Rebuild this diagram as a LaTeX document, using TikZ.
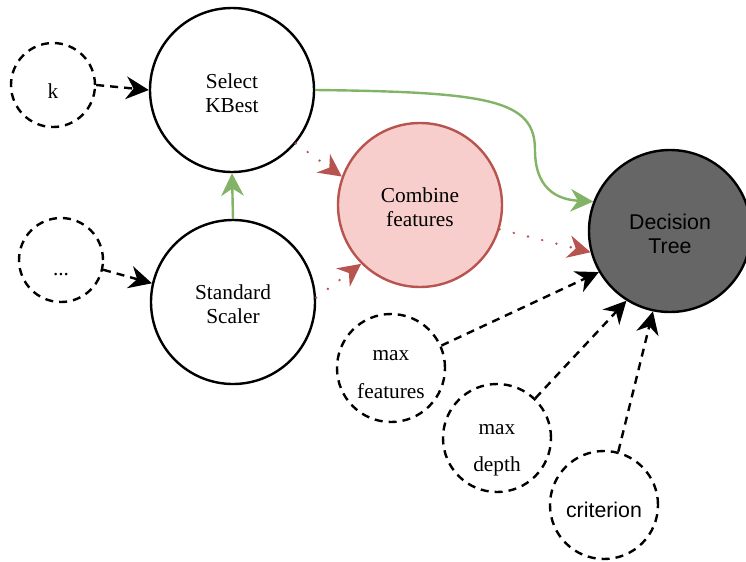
\documentclass[tikz,border=0pt]{standalone}
\usepackage{fontspec}
\setmainfont{Liberation Serif}
\newfontfamily\arialfont{Liberation Sans}
\usetikzlibrary{arrows.meta}

\definecolor{pipegreen}{HTML}{82B366}
\definecolor{pipered}{HTML}{B85450}
\definecolor{pipepink}{HTML}{F8CECC}
\definecolor{pipegray}{HTML}{666666}

% text sits a little low in its circle
\newcommand{\lowertext}[2]{\raisebox{-#1}[\height][\depth]{\begin{tabular}{@{}c@{}}#2\end{tabular}}}

\begin{document}
\begin{tikzpicture}[x=0.75pt,y=-0.75pt,
    every node/.style={font=\fontsize{16}{18}\selectfont,align=center,inner sep=0pt},
    stage/.style={circle,draw,line width=1.8pt,minimum size=123pt},
    param/.style={circle,draw,line width=1.8pt,dash pattern=on 6pt off 4.5pt,minimum size=81pt},
    tip/.style={-{Stealth[length=17pt,width=17pt,inset=5.5pt]}},
    hyper/.style={tip,draw,line width=1.8pt,dash pattern=on 6pt off 4.5pt},
    flow/.style={tip,draw=pipegreen,line width=1.8pt},
    merge/.style={tip,draw=pipered,line width=2pt,line cap=round,dash pattern=on 0pt off 11pt}]

  \useasboundingbox (0,0) rectangle (746,561);

  % pipeline steps
  \node[stage] (kbest)   at (232,90)  {\lowertext{4.5pt}{Select\\KBest}};
  \node[stage] (scaler)  at (233,302) {\lowertext{3.8pt}{Standard\\Scaler}};
  \node[stage,draw=pipered,fill=pipepink] (combine) at (420,205) {\lowertext{3.8pt}{Combine\\features}};
  \node[stage,fill=pipegray,minimum size=121.5pt,font=\arialfont\fontsize{16}{18}\selectfont] (tree) at (670,231) {\lowertext{4.5pt}{Decision\\Tree}};

  % hyperparameters
  \node[param,minimum size=63pt] (k)    at (53,85)   {\lowertext{6.5pt}{k}};
  \node[param,minimum size=63pt] (dots) at (61,260)  {\lowertext{8pt}{...}};
  \node[param] (maxf) at (391,368) {\lowertext{5pt}{max\\[10pt]features}};
  \node[param] (maxd) at (497,438) {\lowertext{7.5pt}{max\\[10pt]depth}};
  \node[param,font=\arialfont\fontsize{16}{18}\selectfont] (crit) at (604,505) {\lowertext{6pt}{criterion}};

  \path (k.east)   edge[hyper] (kbest.west);
  \path (dots.-13) edge[hyper] (scaler.167);
  \path (maxf.24)  edge[hyper] (tree.210);
  \path (maxd.46)  edge[hyper] (tree.238);
  \path (crit.75)  edge[hyper] (tree.258);

  \path (scaler.north) edge[flow] (kbest.south);
  \draw[flow] (kbest.east) .. controls (490,92) and (535,100) .. (535,150)
    .. controls (535,195) and (565,200) .. (tree.159);

  \path (kbest.-40)   edge[merge] (combine.160);
  \path (scaler.3)    edge[merge] (combine.225);
  \path (combine.-17) edge[merge] (tree.195);

\end{tikzpicture}
\end{document}
